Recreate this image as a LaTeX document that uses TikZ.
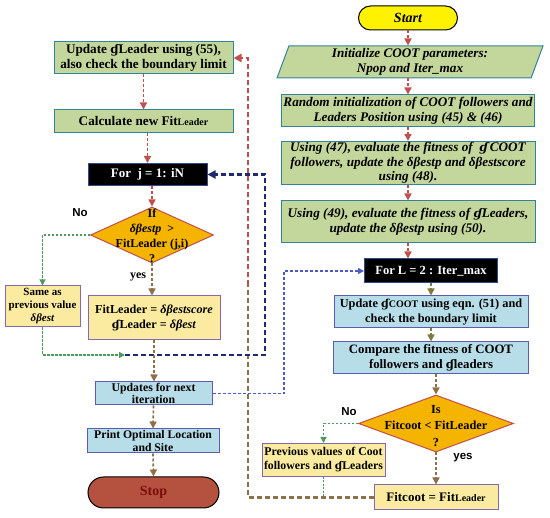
\documentclass[tikz,border=0pt]{standalone}
\usepackage{fontspec}
\setmainfont{Liberation Serif}
\newfontfamily\labfont{Liberation Sans}
\newfontfamily\hookfont[Scale=0.9]{DejaVu Serif}
\usetikzlibrary{arrows.meta,positioning,shapes.geometric,shapes.misc}
\definecolor{boxgreen}{HTML}{C3D69B}
\definecolor{gborder}{HTML}{31849B}
\definecolor{boxblue}{HTML}{B7DDE8}
\definecolor{bborder}{HTML}{5C5CB0}
\definecolor{boxyellow}{HTML}{FBEBA0}
\definecolor{yborder}{HTML}{8468B0}
\definecolor{forborder}{HTML}{2E4C8F}
\definecolor{decfill}{HTML}{F4B400}
\definecolor{decborder}{HTML}{C0504D}
\definecolor{stopfill}{HTML}{B4523F}
\definecolor{stoptext}{HTML}{7B0C0C}
\definecolor{redc}{HTML}{C0504D}
\definecolor{brownc}{HTML}{8B7048}
\definecolor{olivec}{HTML}{7E7A3E}
\definecolor{greenc}{HTML}{4E9A5C}
\definecolor{navyc}{HTML}{1F2A6E}
\definecolor{bluec}{HTML}{4A5CC4}
\newcommand{\hg}{{\hookfont ɠ}}
\newcommand{\sm}[1]{{\fontsize{10}{10}\selectfont #1}}
\newcommand{\dtext}[2]{\makebox[0pt]{\raisebox{#1}[0pt][0pt]{\begin{tabular}{@{}c@{}}#2\end{tabular}}}}

\begin{document}
\begin{tikzpicture}[x=1pt,y=-1pt,
  box/.style={draw,line width=1pt,inner sep=1pt,align=center,font=\bfseries\fontsize{13.2}{15.5}\selectfont},
  gbox/.style={box,draw=gborder,fill=boxgreen},
  gboxit/.style={gbox,font=\bfseries\itshape\fontsize{13.2}{15.5}\selectfont},
  bbox/.style={box,draw=bborder,fill=boxblue},
  ybox/.style={box,draw=yborder,fill=boxyellow},
  forbox/.style={box,draw=forborder,fill=black,text=white},
  decide/.style={diamond,draw=decborder,fill=decfill,line width=1pt,inner sep=0pt},
  term/.style={rounded rectangle,draw,line width=1pt,inner sep=1pt,font=\bfseries\fontsize{14}{16}\selectfont},
  flow/.style={-{Triangle[length=7pt,width=7pt]},line width=1.6pt,dash pattern=on 3pt off 2pt},
  thin/.style={-{Triangle[length=6pt,width=6pt]},line width=1.3pt,dash pattern=on 2.5pt off 1.5pt},
  back/.style={-{Triangle[length=8pt,width=8pt]},line width=2.4pt,dash pattern=on 5pt off 3pt},
  lab/.style={font=\labfont\bfseries\fontsize{11.5}{11.5}\selectfont}]
\useasboundingbox (0,0) rectangle (550,518);
\node[term,fill=yellow,font=\bfseries\itshape\fontsize{14}{16}\selectfont,minimum width=101pt,minimum height=24pt] (start) at (408,18) {Start};
\node[trapezium,trapezium left angle=68,trapezium right angle=112,trapezium stretches body,draw=gborder,fill=boxgreen,line width=1pt,inner sep=1pt,align=center,font=\bfseries\itshape\fontsize{13.2}{15.5}\selectfont,minimum width=266pt,minimum height=32pt] (init) at (410,62) {Initialize COOT parameters:\\Npop and Iter\_max};
\node[gboxit,minimum width=253pt,minimum height=32pt] (rinit) at (408,111) {Random initialization of COOT followers and\\Leaders Position using (45) \& (46)};
\node[gboxit,minimum width=254pt,minimum height=43pt,font=\bfseries\itshape\fontsize{13.2}{14.5}\selectfont] (eval1) at (408,163) {Using (47), evaluate the fitness of \ \hg\,COOT\\followers, update the δβestp and δβestscore\\using (48).};
\node[gboxit,minimum width=254pt,minimum height=42pt] (eval2) at (408,222) {Using (49), evaluate the fitness of \hg Leaders,\\update the δβestp using (50).};
\node[forbox,minimum width=133pt,minimum height=24pt,font=\bfseries\fontsize{12.5}{14}\selectfont] (forl) at (431,271) {For L = 2 : Iter\_max};
\node[bbox,minimum width=194pt,minimum height=32pt,font=\bfseries\fontsize{12.3}{15}\selectfont] (updc) at (431,312) {Update \hg\sm{COOT} using eqn. (51) and\\check the boundary limit};
\node[bbox,minimum width=195pt,minimum height=32pt,font=\bfseries\fontsize{12.8}{15}\selectfont] (cmp) at (431,358) {Compare the fitness of COOT\\followers and \hg leaders};
\node[decide,minimum width=155pt,minimum height=57pt,font=\bfseries\fontsize{12.3}{16.5}\selectfont] (dec2) at (436,423.5) {\dtext{-6pt}{Is\\Fitcoot < FitLeader\\?}};
\node[ybox,minimum width=123pt,minimum height=33pt,font=\bfseries\fontsize{11.8}{14}\selectfont] (prev) at (323.5,460) {Previous values of Coot\\followers and \hg Leaders};
\node[ybox,minimum width=124pt,minimum height=25pt,font=\bfseries\fontsize{13}{14}\selectfont] (fitc) at (436,497.5) {Fitcoot = Fit\sm{Leader}};
\node[gbox,minimum width=179pt,minimum height=32pt] (upd) at (143.5,58) {Update \hg Leader using (55),\\also check the boundary limit};
\node[gbox,minimum width=179pt,minimum height=23pt] (calc) at (143.5,121.5) {Calculate new Fit\sm{Leader}};
\node[forbox,minimum width=119pt,minimum height=22pt,font=\bfseries\fontsize{13}{14}\selectfont] (forj) at (147.5,174.5) {For \ j = 1: iN};
\node[decide,minimum width=123pt,minimum height=56pt,font=\bfseries\fontsize{12}{15}\selectfont] (dec1) at (152,235) {\dtext{-5pt}{If\\\textit{δβestp} \ >\\FitLeader (j,i)\\?}};
\node[ybox,minimum width=75pt,minimum height=41pt,font=\bfseries\fontsize{11}{13}\selectfont] (same) at (42.5,306.5) {Same as\\previous value\\\textit{δβest}};
\node[ybox,minimum width=132pt,minimum height=44pt,font=\bfseries\fontsize{12.2}{15}\selectfont] (fitl) at (154,318) {FitLeader = \textit{δβestscore}\\\hg Leader = \textit{δβest}};
\node[bbox,minimum width=117pt,minimum height=23pt,font=\bfseries\fontsize{11.8}{12}\selectfont] (nextit) at (153.5,393.5) {Updates for next\\iteration};
\node[bbox,minimum width=132pt,minimum height=24pt,font=\bfseries\fontsize{11.7}{12.5}\selectfont] (print) at (153,441) {Print Optimal Location\\and Site};
\node[term,fill=stopfill,text=stoptext,minimum width=133pt,minimum height=31pt] (stop) at (153.5,492.5) {Stop};
\node[lab] (no1) at (80,213) {No};
\node[font=\bfseries\fontsize{12}{12}\selectfont] (yes1) at (138,277) {yes};
\node[lab] (no2) at (349,412) {No};
\node[lab] (yes2) at (463,458) {yes};
\coordinate (join) at (125,355);
\coordinate (navyc) at (265,355);
\coordinate (bluec) at (284,393.5);
\coordinate (turn) at (248,285);
\draw[flow,redc] (start.south) -- (start.south |- init.north);
\draw[flow,redc] (start.south |- init.south) -- (start.south |- rinit.north);
\draw[flow,redc] (rinit.south) -- (eval1.north);
\draw[flow,redc] (eval1.south) -- (eval2.north);
\draw[flow,redc] (eval2.south) -- (eval2.south |- forl.north);
\draw[flow,olivec] (forl.south) -- (updc.north);
\draw[flow,olivec] (updc.south) -- (cmp.north);
\draw[flow,brownc] (dec2.north |- cmp.south) -- (dec2.north);
\draw[flow,brownc] (dec2.south) -- (fitc.north);
\draw[thin,greenc] (dec2.west) -| (prev.north);
\draw[line width=1.3pt,greenc,dash pattern=on 2pt off 1.5pt] (prev.south) -- (prev.south |- fitc.west);
\draw[line width=2.4pt,dash pattern=on 5pt off 3pt,brownc] (fitc.west) -| (turn);
\draw[back,redc] (turn) |- (upd.east);
\draw[flow,redc] (upd.south) -- (upd.south |- calc.north);
\draw[flow,redc] (forj.north |- calc.south) -- (forj.north);
\draw[flow,redc] (dec1.north |- forj.south) -- (dec1.north);
\draw[flow,brownc] (dec1.south) -- (dec1.south |- fitl.north);
\draw[thin,greenc] (dec1.west) -| (same.north);
\draw[thin,greenc] (same.south) |- (join);
\draw[back,navyc] (join) -- (navyc) |- (forj.east);
\draw[flow,brownc] (fitl.south) -- (fitl.south |- nextit.north);
\draw[-{Triangle[length=6pt,width=6pt]},line width=1.3pt,dash pattern=on 3pt off 2pt,bluec] (nextit.east) -- (bluec) |- (forl.west);
\draw[flow,brownc] (nextit.south) -- (print.north);
\draw[flow,brownc] (print.south) -- (stop.north);
\end{tikzpicture}
\end{document}
